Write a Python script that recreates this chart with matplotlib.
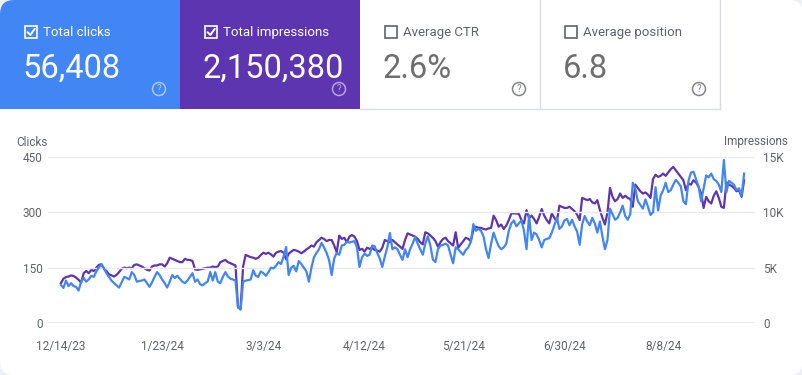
import pandas as pd
import matplotlib.pyplot as plt
from matplotlib.patches import FancyBboxPatch, Rectangle, Circle

plt.rcParams['font.family'] = ['Roboto', 'DejaVu Sans']

start_date = '2023-12-14'

clicks = [
    103, 95, 115, 100, 108, 100, 98, 88, 112, 122, 112, 118, 128, 125, 140, 150,
    160, 148, 135, 125, 115, 108, 102, 96, 110, 125, 122, 118, 138, 130, 112, 114,
    115, 118, 108, 98, 110, 125, 138, 130, 118, 108, 96, 112, 130, 122, 128, 120,
    112, 108, 115, 125, 135, 112, 118, 105, 102, 108, 112, 138, 115, 138, 112, 108,
    125, 138, 126, 120, 118, 115, 43, 36, 112, 115, 116, 118, 143, 128, 125, 140,
    135, 128, 138, 150, 148, 155, 165, 160, 180, 206, 130, 150, 155, 140, 168, 160,
    150, 140, 112, 150,
    178, 190, 200, 217, 205, 190, 170, 130, 175, 190, 185, 210, 212, 220, 218, 220,
    222, 205, 152, 178, 188, 182, 185, 210, 208, 190, 175, 152, 180, 205, 244, 200,
    205, 200, 185, 171, 200, 178, 200, 215, 233, 215, 200, 185, 215, 235, 210, 172,
    165, 200, 210, 212, 215, 210, 185, 162, 205, 200, 192, 185, 198, 205, 220, 268,
    250, 255,
    250, 235, 200, 176, 215, 245, 225, 208, 200, 205, 215, 250, 270, 278, 262, 270,
    278, 250, 200, 292, 225, 245, 240, 225, 205, 225, 228, 230, 245, 265, 285, 255,
    262, 278,
    282, 265, 280, 262, 248, 212, 268, 290, 275, 265, 285, 270, 245, 275, 235, 200,
    225, 310, 295, 280, 285, 300, 318, 290, 280, 295, 380, 365, 330, 320, 310, 335,
    315, 293,
    300, 368, 305, 345, 360, 380, 355, 360, 375, 388, 380, 370, 330, 322, 385, 408,
    410, 390, 370, 330, 365, 400, 395, 405, 390, 385, 375, 355, 442, 355, 385, 380,
    375, 360, 365, 345, 405,
]

impressions = [
    3600, 4000, 4150, 4200, 4300, 4250, 4100, 3900, 3650, 4500, 4700, 4500, 4800, 4700, 5000, 5250,
    5300, 4900, 4700, 4400, 4300, 4200, 4350, 4600, 4900, 5000, 4950, 5000, 4950, 5250, 5300, 5200,
    5100, 4950, 4800, 4750, 5100, 5200, 5200, 5300, 5300, 5100, 5400, 5900, 5800, 5700, 5600, 5500,
    5500, 5800, 5700, 5700, 5600, 4850, 4800, 4850, 4900, 4950, 5000, 5000, 5100, 5050, 5100, 5500,
    5600, 5700, 5500, 5400, 5300, 5200, 1400, 1300, 5100, 6150, 6050, 5950, 5900, 5800, 5900, 6150,
    6350, 6250, 6350, 6200, 6000, 6350, 6450, 6500, 6350, 5750, 6250, 6450, 6600, 6550, 6450, 6300,
    6450, 6650, 6800, 7000,
    6900, 7300, 7500, 7700, 7600, 7400, 7500, 7500, 7000, 6400, 7900, 7600, 7700, 7300, 7800, 7950,
    7800, 7400, 6600, 6700, 6450, 6800, 6700, 6800, 6600, 6550, 6450, 6800, 7500, 7400, 7300, 7500,
    7300, 7100, 6900, 6700, 7500, 8100, 8000, 7900, 7800, 7600, 7300, 7100, 8200, 8100, 7900, 7700,
    7400, 6900, 7300, 7600, 7700, 7400, 7200, 7000, 8200, 6800, 7100, 7400, 7700, 7600, 7400, 8400,
    8700, 8600,
    8600, 8500, 8450, 8550, 8600, 9700, 9300, 8700, 8900, 8500, 8800, 9300, 9900, 9900, 9900, 9850,
    9300, 9000, 10200, 9500, 9700, 9400, 9000, 9600, 10300, 9700, 9300, 9000, 9900, 9500, 9200, 10600,
    10500, 10400,
    10400, 10500, 10300, 10100, 9800, 9300, 11300, 11200, 11100, 11200, 10900, 10800, 11100, 10200, 9500, 8900,
    10000, 12200, 11400, 11000, 11200, 11700, 11300, 11500, 11300, 11200, 10500, 12500, 12200, 11900, 11700, 11800,
    11600, 11300,
    13000, 13400, 13200, 13300, 13500, 13300, 13600, 13900, 14100, 13800, 13500, 13200, 12900, 12000, 12600, 12500,
    12900, 12700, 12300, 11700, 10400, 11400, 11000, 10800, 11500, 11900, 11300, 10500, 10400, 12700, 12500, 12400,
    12200, 11900, 12000, 11400, 12900,
]

tick_labels = ['12/14/23', '1/23/24', '3/3/24', '4/12/24', '5/21/24', '6/30/24', '8/8/24']
clicks_ticks = [0, 150, 300, 450]
impr_ticks = [0, 5000, 10000, 15000]
impr_tick_labels = ['0', '5K', '10K', '15K']

card_titles = ['Total clicks', 'Total impressions', 'Average CTR', 'Average position']
card_values = ['56,408', '2,150,380', '2.6%', '6.8']
card_checked = [True, True, False, False]
card_colors = ['#4285f4', '#5e35b1', 'white', 'white']

BLUE = '#4285f4'
PURPLE = '#5e35b1'
GRAY_TEXT = '#5f6368'

dates = pd.date_range(start_date, periods=len(clicks), freq='D')
tick_dates = pd.to_datetime(tick_labels, format='%m/%d/%y')

fig = plt.figure(figsize=(8.03, 3.75), dpi=100)
fig.patch.set_facecolor('#eef0f5')

# overlay in pixel coords for the cards
ov = fig.add_axes([0, 0, 1, 1], zorder=0)
ov.set_xlim(0, 803)
ov.set_ylim(375, 0)
ov.axis('off')

ov.add_patch(FancyBboxPatch((0, 0), 803, 375, boxstyle='round,pad=0,rounding_size=14',
                            fc='white', ec='none'))

for i in range(4):
    x0 = 180 * i
    col = card_colors[i]
    if i == 0:
        ov.add_patch(FancyBboxPatch((0, 0), 180, 109, boxstyle='round,pad=0,rounding_size=14',
                                    fc=col, ec='none'))
        ov.add_patch(Rectangle((14, 0), 166, 109, fc=col, ec='none'))
        ov.add_patch(Rectangle((0, 14), 180, 95, fc=col, ec='none'))
    elif col != 'white':
        ov.add_patch(Rectangle((x0, 0), 180, 109, fc=col, ec='none'))

    if card_checked[i]:
        fg = 'white'
        icon = '#ffffff'
        icon_alpha = 0.55
        val_col = 'white'
    else:
        fg = GRAY_TEXT
        icon = '#80868b'
        icon_alpha = 1
        val_col = '#6e6e6e'

    # checkbox
    ov.add_patch(Rectangle((x0 + 25, 26), 12, 12, fc='none', ec=fg, lw=1.2))
    if card_checked[i]:
        ov.plot([x0 + 27.5, x0 + 30.3, x0 + 34.8], [32.2, 35, 28.8], color='white', lw=1.4,
                solid_capstyle='round')
    ov.text(x0 + 43, 32.5, card_titles[i], color=fg, fontsize=9.5, va='center', ha='left')
    ov.text(x0 + 23, 69, card_values[i], color=val_col, fontsize=23.5, va='center', ha='left')

    # help icon
    ov.add_patch(Circle((x0 + 159, 89), 6.5, fc='none', ec=icon, lw=1.1, alpha=icon_alpha))
    ov.text(x0 + 159, 89.5, '?', color=icon, alpha=icon_alpha, fontsize=7, ha='center',
            va='center')

ov.plot([540, 540], [0, 109], color='#dadce0', lw=1)
ov.plot([720, 720], [0, 109], color='#dadce0', lw=1)
ov.plot([360, 720], [108.5, 108.5], color='#dadce0', lw=1)

ov.text(16, 142, 'Clicks', color=GRAY_TEXT, fontsize=8.5, ha='left', va='center')
ov.text(788, 142, 'Impressions', color=GRAY_TEXT, fontsize=8.5, ha='right', va='center')

# chart
ax = fig.add_axes([48 / 803, 52 / 375, 707 / 803, 166 / 375], zorder=2)
ax2 = ax.twinx()
ax2.set_zorder(1)
ax.patch.set_visible(False)
ax2.patch.set_visible(False)

ax2.plot(dates, impressions, color=PURPLE, lw=1.6, solid_joinstyle='round')
ax.plot(dates, clicks, color=BLUE, lw=1.6, solid_joinstyle='round')

ax.set_ylim(0, 450)
ax2.set_ylim(0, 15000)
ax.set_xlim(dates[0] - pd.Timedelta(days=5.1), dates[-1] + pd.Timedelta(days=4.3))

ax.set_yticks(clicks_ticks)
ax.set_yticklabels([str(v) for v in clicks_ticks])
ax2.set_yticks(impr_ticks)
ax2.set_yticklabels(impr_tick_labels)
ax.set_xticks(tick_dates)
ax.set_xticklabels(tick_labels)

for a in (ax, ax2):
    for s in a.spines.values():
        s.set_visible(False)
    a.tick_params(length=0, colors=GRAY_TEXT, labelsize=8.5)
ax.tick_params(axis='y', pad=4)
ax2.tick_params(axis='y', pad=6)
ax.tick_params(axis='x', pad=12)

for v in clicks_ticks[1:]:
    ax.axhline(v, color='#e8eaed', lw=1, zorder=0)
ax.axhline(0, color='#9aa0a6', lw=1, zorder=0)

fig.savefig('out.png', dpi=100, facecolor=fig.get_facecolor())
